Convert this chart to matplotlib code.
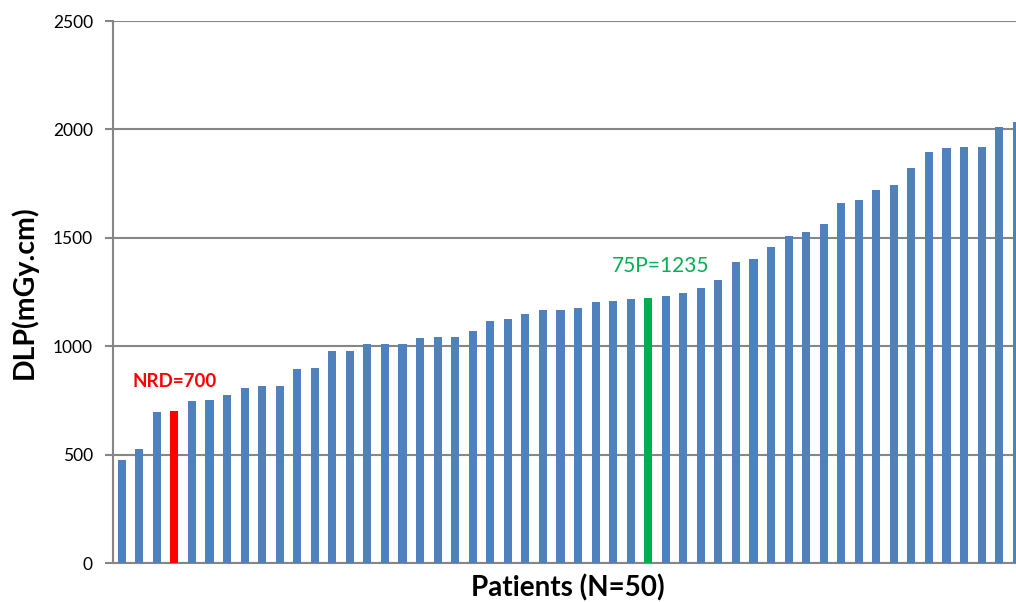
import numpy as np
import matplotlib
matplotlib.use('Agg')
import matplotlib.pyplot as plt

plt.rcParams['font.family'] = ['Lato', 'DejaVu Sans']

# DLP values per patient (sorted)
dlp = [475, 526, 695, 700, 747, 750, 775, 806, 815, 818,
       893, 901, 976, 979, 1010, 1010, 1012, 1038, 1042, 1042,
       1070, 1115, 1127, 1148, 1166, 1167, 1178, 1204, 1210, 1218,
       1222, 1233, 1245, 1268, 1304, 1388, 1404, 1456, 1510, 1528,
       1562, 1660, 1673, 1720, 1745, 1820, 1897, 1913, 1917, 1917,
       2010, 2033]
nrd_idx = 3
p75_idx = 30
y_ticks = [0, 500, 1000, 1500, 2000, 2500]

colors = ['#4F81BD'] * len(dlp)
colors[nrd_idx] = '#FF0000'
colors[p75_idx] = '#00B050'

fig = plt.figure(figsize=(10.16, 6.02), dpi=100)
ax = fig.add_axes([113 / 1016, 39 / 602, 903 / 1016, 542 / 602])

x = np.arange(len(dlp))
ax.bar(x, dlp, width=0.46, color=colors, zorder=3)

ax.set_xlim(-0.5, 50.96)
ax.set_ylim(0, 2500)
ax.set_yticks(y_ticks)
ax.set_xticks([])
ax.grid(axis='y', color='#868686', linewidth=1.5, zorder=0)
ax.tick_params(axis='y', length=6, width=1.5, color='#868686',
               labelsize=12.5, pad=8.5)

for side in ['top', 'right']:
    ax.spines[side].set_visible(False)
for side in ['left', 'bottom']:
    ax.spines[side].set_color('#868686')
    ax.spines[side].set_linewidth(1.5)

ax.set_ylabel('DLP(mGy.cm)', fontsize=20.5, fontweight='bold')
ax.yaxis.set_label_coords(-(113 - 38) / 903, (563 - 292) / 542)
ax.set_xlabel('Patients (N=50)', fontsize=20, fontweight='bold')
ax.xaxis.set_label_coords((568 - 113) / 903, -0.02)

ax.text(nrd_idx, 800, 'NRD=700', color='#FF0000', fontsize=13.5,
        fontweight='bold', ha='center', va='bottom')
ax.text(p75_idx + 0.7, 1325, '75P=1235', color='#00B050', fontsize=15,
        ha='center', va='bottom')

plt.savefig('out.png', dpi=100)
